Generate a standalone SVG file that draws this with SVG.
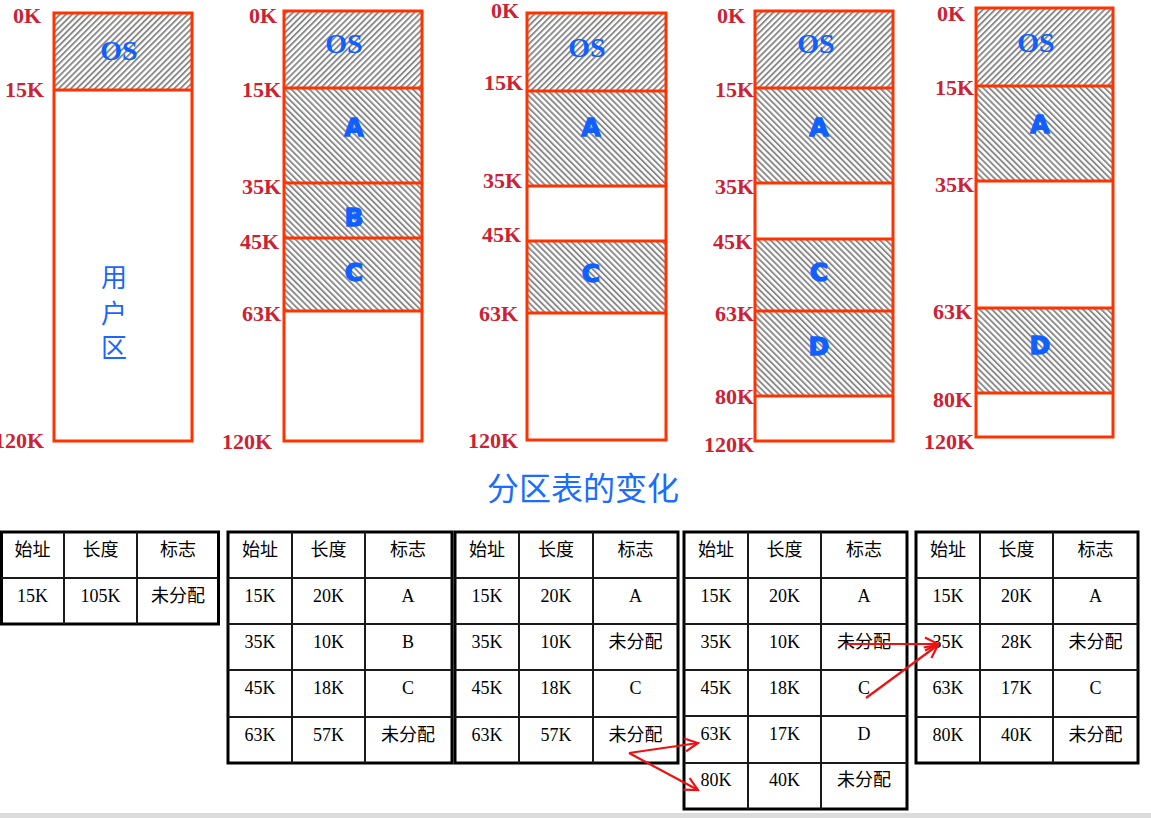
<svg xmlns="http://www.w3.org/2000/svg" width="1151" height="818" viewBox="0 0 1151 818">
<style>
.mem{fill:none;stroke:#ff3300;stroke-width:3}
.div{stroke:#ff3300;stroke-width:3}
.os{fill:url(#hf)}
.pr{fill:url(#hb)}
.lbl{font-family:"Liberation Serif","Times New Roman",serif;font-weight:bold;font-size:22px;fill:#cc2233;text-anchor:end}
.ost{font-family:"Liberation Serif","Times New Roman",serif;font-weight:bold;font-size:28px;fill:#1060ff;text-anchor:middle}
.pl{font-family:"DejaVu Sans","Liberation Sans",sans-serif;font-weight:bold;font-size:25px;fill:#1060ff;stroke:#1060ff;stroke-width:1.3;text-anchor:middle}
.usr{font-family:"Noto Sans CJK SC",sans-serif;font-size:26px;fill:#1a66ff;text-anchor:middle}
.title{font-family:"Noto Sans CJK SC",sans-serif;font-size:32px;fill:#1a6dff;text-anchor:middle}
.tb{fill:#fff;stroke:#000;stroke-width:3}
.tl{stroke:#1a1a1a;stroke-width:2}
.tt{font-family:"Liberation Serif","Times New Roman","Noto Sans CJK SC",serif;font-size:18px;fill:#000;text-anchor:middle}
.arr{stroke:#ee1111;stroke-width:2.2;fill:none;marker-end:url(#ah)}
</style>
<defs>
<pattern id="hf" width="4.3" height="4.3" patternUnits="userSpaceOnUse" patternTransform="rotate(45)"><rect width="4.3" height="4.3" fill="#fff"/><rect width="1.9" height="4.3" fill="#8a8a8a"/></pattern>
<pattern id="hb" width="4.3" height="4.3" patternUnits="userSpaceOnUse" patternTransform="rotate(-45)"><rect width="4.3" height="4.3" fill="#fff"/><rect width="1.9" height="4.3" fill="#8a8a8a"/></pattern>
<marker id="ah" markerWidth="16" markerHeight="16" viewBox="0 0 16 16" refX="14" refY="8" orient="auto" markerUnits="userSpaceOnUse"><path d="M1,1.5 L14,8 L1,14.5" fill="none" stroke="#ee1111" stroke-width="2.2"/></marker>
</defs>
<rect width="1151" height="818" fill="#fff"/>
<rect x="0" y="813" width="1151" height="5" fill="#dcdcdc"/>

<g id="mem1">
<rect class="os" x="54" y="13" width="138" height="77"/>
<rect class="mem" x="54" y="13" width="138" height="428"/>
<line class="div" x1="54" y1="90" x2="192" y2="90"/>
<text class="ost" x="119" y="60">OS</text>
<text class="usr" x="114" y="287">用</text>
<text class="usr" x="114" y="323">户</text>
<text class="usr" x="114" y="357">区</text>
<text class="lbl" x="41" y="23">0K</text>
<text class="lbl" x="44" y="97">15K</text>
<text class="lbl" x="44" y="448">120K</text>
</g>

<g id="mem2">
<rect class="os" x="284" y="11" width="138" height="77"/>
<rect class="pr" x="284" y="88" width="138" height="223"/>
<rect class="mem" x="284" y="11" width="138" height="430"/>
<line class="div" x1="284" y1="88" x2="422" y2="88"/>
<line class="div" x1="284" y1="183" x2="422" y2="183"/>
<line class="div" x1="284" y1="238" x2="422" y2="238"/>
<line class="div" x1="284" y1="311" x2="422" y2="311"/>
<text class="ost" x="344" y="53">OS</text>
<text class="pl" x="354" y="136">A</text>
<text class="pl" x="354" y="226">B</text>
<text class="pl" x="354" y="281">C</text>
<text class="lbl" x="277" y="23">0K</text>
<text class="lbl" x="281" y="97">15K</text>
<text class="lbl" x="281" y="194">35K</text>
<text class="lbl" x="279" y="249">45K</text>
<text class="lbl" x="281" y="321">63K</text>
<text class="lbl" x="272" y="449">120K</text>
</g>

<g id="mem3">
<rect class="os" x="527" y="13" width="139" height="78"/>
<rect class="pr" x="527" y="91" width="139" height="95"/>
<rect class="pr" x="527" y="241" width="139" height="72"/>
<rect class="mem" x="527" y="13" width="139" height="427"/>
<line class="div" x1="527" y1="91" x2="666" y2="91"/>
<line class="div" x1="527" y1="186" x2="666" y2="186"/>
<line class="div" x1="527" y1="241" x2="666" y2="241"/>
<line class="div" x1="527" y1="313" x2="666" y2="313"/>
<text class="ost" x="587" y="57">OS</text>
<text class="pl" x="591" y="136">A</text>
<text class="pl" x="591" y="282">C</text>
<text class="lbl" x="519" y="18">0K</text>
<text class="lbl" x="523" y="90">15K</text>
<text class="lbl" x="522" y="188">35K</text>
<text class="lbl" x="521" y="242">45K</text>
<text class="lbl" x="518" y="321">63K</text>
<text class="lbl" x="518" y="448">120K</text>
</g>

<g id="mem4">
<rect class="os" x="755" y="11" width="138" height="77"/>
<rect class="pr" x="755" y="88" width="138" height="95"/>
<rect class="pr" x="755" y="239" width="138" height="157"/>
<rect class="mem" x="755" y="11" width="138" height="430"/>
<line class="div" x1="755" y1="88" x2="893" y2="88"/>
<line class="div" x1="755" y1="183" x2="893" y2="183"/>
<line class="div" x1="755" y1="239" x2="893" y2="239"/>
<line class="div" x1="755" y1="311" x2="893" y2="311"/>
<line class="div" x1="755" y1="396" x2="893" y2="396"/>
<text class="ost" x="816" y="53">OS</text>
<text class="pl" x="819" y="136">A</text>
<text class="pl" x="819" y="281">C</text>
<text class="pl" x="819" y="355">D</text>
<text class="lbl" x="745" y="23">0K</text>
<text class="lbl" x="754" y="97">15K</text>
<text class="lbl" x="754" y="194">35K</text>
<text class="lbl" x="752" y="249">45K</text>
<text class="lbl" x="754" y="321">63K</text>
<text class="lbl" x="754" y="404">80K</text>
<text class="lbl" x="754" y="452">120K</text>
</g>

<g id="mem5">
<rect class="os" x="976" y="8" width="137" height="78"/>
<rect class="pr" x="976" y="86" width="137" height="95"/>
<rect class="pr" x="976" y="308" width="137" height="85"/>
<rect class="mem" x="976" y="8" width="137" height="429"/>
<line class="div" x1="976" y1="86" x2="1113" y2="86"/>
<line class="div" x1="976" y1="181" x2="1113" y2="181"/>
<line class="div" x1="976" y1="308" x2="1113" y2="308"/>
<line class="div" x1="976" y1="393" x2="1113" y2="393"/>
<text class="ost" x="1036" y="52">OS</text>
<text class="pl" x="1040" y="133">A</text>
<text class="pl" x="1040" y="354">D</text>
<text class="lbl" x="965" y="21">0K</text>
<text class="lbl" x="974" y="95">15K</text>
<text class="lbl" x="974" y="192">35K</text>
<text class="lbl" x="972" y="319">63K</text>
<text class="lbl" x="972" y="407">80K</text>
<text class="lbl" x="974" y="449">120K</text>
</g>

<text id="title" class="title" x="583" y="500">分区表的变化</text>

<g id="table1">
<rect class="tb" x="1.5" y="532" width="217" height="92"/>
<line class="tl" x1="64" y1="532" x2="64" y2="624"/>
<line class="tl" x1="137" y1="532" x2="137" y2="624"/>
<line class="tl" x1="1" y1="578" x2="218" y2="578"/>
<text class="tt" x="32.5" y="556">始址</text><text class="tt" x="100.5" y="556">长度</text><text class="tt" x="178" y="556">标志</text>
<text class="tt" x="32.5" y="602">15K</text><text class="tt" x="100.5" y="602">105K</text><text class="tt" x="178" y="602">未分配</text>
</g>

<g id="table2">
<rect class="tb" x="228" y="532" width="224" height="231"/>
<line class="tl" x1="292" y1="532" x2="292" y2="763"/>
<line class="tl" x1="365" y1="532" x2="365" y2="763"/>
<line class="tl" x1="228" y1="578" x2="452" y2="578"/>
<line class="tl" x1="228" y1="624" x2="452" y2="624"/>
<line class="tl" x1="228" y1="670" x2="452" y2="670"/>
<line class="tl" x1="228" y1="717" x2="452" y2="717"/>
<text class="tt" x="260" y="556">始址</text><text class="tt" x="328.5" y="556">长度</text><text class="tt" x="408" y="556">标志</text>
<text class="tt" x="260" y="602">15K</text><text class="tt" x="328.5" y="602">20K</text><text class="tt" x="408" y="602">A</text>
<text class="tt" x="260" y="648">35K</text><text class="tt" x="328.5" y="648">10K</text><text class="tt" x="408" y="648">B</text>
<text class="tt" x="260" y="694">45K</text><text class="tt" x="328.5" y="694">18K</text><text class="tt" x="408" y="694">C</text>
<text class="tt" x="260" y="741">63K</text><text class="tt" x="328.5" y="741">57K</text><text class="tt" x="408" y="741">未分配</text>
</g>

<g id="table3">
<rect class="tb" x="455" y="532" width="223" height="231"/>
<line class="tl" x1="519" y1="532" x2="519" y2="763"/>
<line class="tl" x1="593" y1="532" x2="593" y2="763"/>
<line class="tl" x1="455" y1="578" x2="678" y2="578"/>
<line class="tl" x1="455" y1="624" x2="678" y2="624"/>
<line class="tl" x1="455" y1="670" x2="678" y2="670"/>
<line class="tl" x1="455" y1="717" x2="678" y2="717"/>
<text class="tt" x="487" y="556">始址</text><text class="tt" x="556" y="556">长度</text><text class="tt" x="635.5" y="556">标志</text>
<text class="tt" x="487" y="602">15K</text><text class="tt" x="556" y="602">20K</text><text class="tt" x="635.5" y="602">A</text>
<text class="tt" x="487" y="648">35K</text><text class="tt" x="556" y="648">10K</text><text class="tt" x="635.5" y="648">未分配</text>
<text class="tt" x="487" y="694">45K</text><text class="tt" x="556" y="694">18K</text><text class="tt" x="635.5" y="694">C</text>
<text class="tt" x="487" y="741">63K</text><text class="tt" x="556" y="741">57K</text><text class="tt" x="635.5" y="741">未分配</text>
</g>

<g id="table4">
<rect class="tb" x="684" y="532" width="223" height="277"/>
<line class="tl" x1="748" y1="532" x2="748" y2="809"/>
<line class="tl" x1="821" y1="532" x2="821" y2="809"/>
<line class="tl" x1="684" y1="578" x2="907" y2="578"/>
<line class="tl" x1="684" y1="624" x2="907" y2="624"/>
<line class="tl" x1="684" y1="670" x2="907" y2="670"/>
<line class="tl" x1="684" y1="716" x2="907" y2="716"/>
<line class="tl" x1="684" y1="763" x2="907" y2="763"/>
<text class="tt" x="716" y="556">始址</text><text class="tt" x="784.5" y="556">长度</text><text class="tt" x="864" y="556">标志</text>
<text class="tt" x="716" y="602">15K</text><text class="tt" x="784.5" y="602">20K</text><text class="tt" x="864" y="602">A</text>
<text class="tt" x="716" y="648">35K</text><text class="tt" x="784.5" y="648">10K</text><text class="tt" x="864" y="648">未分配</text>
<text class="tt" x="716" y="694">45K</text><text class="tt" x="784.5" y="694">18K</text><text class="tt" x="864" y="694">C</text>
<text class="tt" x="716" y="740">63K</text><text class="tt" x="784.5" y="740">17K</text><text class="tt" x="864" y="740">D</text>
<text class="tt" x="716" y="786">80K</text><text class="tt" x="784.5" y="786">40K</text><text class="tt" x="864" y="786">未分配</text>
</g>

<g id="table5">
<rect class="tb" x="916" y="532" width="222" height="231"/>
<line class="tl" x1="980" y1="532" x2="980" y2="763"/>
<line class="tl" x1="1053" y1="532" x2="1053" y2="763"/>
<line class="tl" x1="916" y1="578" x2="1138" y2="578"/>
<line class="tl" x1="916" y1="624" x2="1138" y2="624"/>
<line class="tl" x1="916" y1="670" x2="1138" y2="670"/>
<line class="tl" x1="916" y1="717" x2="1138" y2="717"/>
<text class="tt" x="948" y="556">始址</text><text class="tt" x="1016.5" y="556">长度</text><text class="tt" x="1095.5" y="556">标志</text>
<text class="tt" x="948" y="602">15K</text><text class="tt" x="1016.5" y="602">20K</text><text class="tt" x="1095.5" y="602">A</text>
<text class="tt" x="948" y="648">35K</text><text class="tt" x="1016.5" y="648">28K</text><text class="tt" x="1095.5" y="648">未分配</text>
<text class="tt" x="948" y="694">63K</text><text class="tt" x="1016.5" y="694">17K</text><text class="tt" x="1095.5" y="694">C</text>
<text class="tt" x="948" y="741">80K</text><text class="tt" x="1016.5" y="741">40K</text><text class="tt" x="1095.5" y="741">未分配</text>
</g>

<g id="connectors">
<path class="arr" d="M629,753 L698,743"/>
<path class="arr" d="M629,753 L698,790"/>
<path class="arr" d="M846,644 L938,644"/>
<path class="arr" d="M866,698 L938,645"/>
</g>
</svg>
